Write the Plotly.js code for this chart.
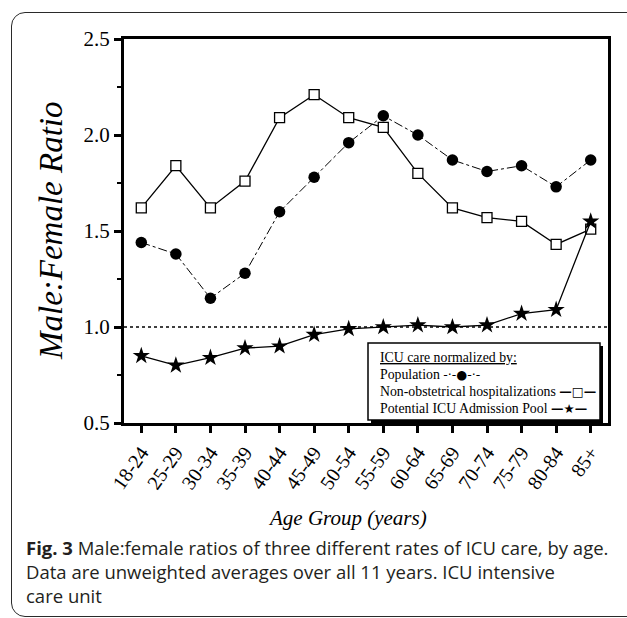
<!DOCTYPE html>
<html>
<head>
<meta charset="utf-8">
<script src="https://cdn.plot.ly/plotly-3.0.1.min.js"></script>
<style>
  html, body { margin: 0; padding: 0; background: #fff; overflow: hidden; }
  #wrap { position: relative; width: 627px; height: 618px; overflow: hidden; }
  #chart { position: absolute; left: 0; top: 0; width: 627px; height: 618px; }
  #frame { position: absolute; left: 11px; top: 12px; width: 700px; height: 603px;
           border: 1.5px solid #2a2a2a; border-radius: 14px; pointer-events: none; }
</style>
</head>
<body>
<div id="wrap"><div id="chart"></div><div id="frame"></div></div>
<script>
const ageGroups = ["18-24","25-29","30-34","35-39","40-44","45-49","50-54","55-59","60-64","65-69","70-74","75-79","80-84","85+"];
const population = [1.44,1.38,1.15,1.28,1.60,1.78,1.96,2.10,2.00,1.87,1.81,1.84,1.73,1.87];
const nonObstetrical = [1.62,1.84,1.62,1.76,2.09,2.21,2.09,2.04,1.80,1.62,1.57,1.55,1.43,1.51];
const icuPool = [0.85,0.80,0.84,0.89,0.90,0.96,0.99,1.00,1.01,1.00,1.01,1.07,1.09,1.55];
const seriesNames = ["Population","Non-obstetrical hospitalizations","Potential ICU Admission Pool"];
const legendTitle = "ICU care normalized by:";
const yTitle = "Male:Female Ratio";
const xTitle = "Age Group (years)";
const captionLines = [
  "<b>Fig. 3</b> Male:female ratios of three different rates of ICU care, by age.",
  "Data are unweighted averages over all 11 years. ICU intensive",
  "care unit"
];

const serif = "Liberation Serif, Times New Roman, serif";
const W = 627, H = 618;
const L = 124, R = 608, T = 39, B = 423;
const pw = R - L, ph = B - T;
const px = x => (x - L) / pw;
const py = y => (B - y) / ph;

const traces = [
  { x: ageGroups, y: population, name: seriesNames[0], type: "scatter", mode: "lines+markers",
    line: { color: "#000", width: 1, dash: "dashdot" },
    marker: { symbol: "circle", size: 11.5, color: "#000" } },
  { x: ageGroups, y: nonObstetrical, name: seriesNames[1], type: "scatter", mode: "lines+markers",
    line: { color: "#000", width: 1.3 },
    marker: { symbol: "square", size: 10, color: "#fff", line: { color: "#000", width: 1.3 } } },
  { x: ageGroups, y: icuPool, name: seriesNames[2], type: "scatter", mode: "lines+markers",
    line: { color: "#000", width: 1.3 },
    marker: { symbol: "star", size: 13, color: "#000" } }
];

const sym = s => '<span style="font-family:DejaVu Sans;font-size:12.5px;font-weight:bold">' + s + '</span>';
const legX = px(378);
const legFont = { family: serif, size: 13.8, color: "#000" };
const annotations = [
  { text: yTitle, xref: "paper", yref: "paper", x: px(51), y: 0.5, textangle: -90,
    showarrow: false, xanchor: "center", yanchor: "middle",
    font: { family: serif, size: 33, color: "#000", style: "italic" } },
  { text: "<i>" + xTitle + "</i>", xref: "paper", yref: "paper", x: px(347), y: py(518),
    showarrow: false, xanchor: "center", yanchor: "middle",
    font: { family: serif, size: 21, color: "#000" } },
  { text: "<u>" + legendTitle + "</u>", xref: "paper", yref: "paper", x: legX, y: py(357),
    showarrow: false, xanchor: "left", yanchor: "middle", font: legFont },
  { text: seriesNames[0] + " " + '<span style="font-family:DejaVu Sans;font-size:12.5px">-\u00b7-\u25CF-\u00b7-</span>', xref: "paper", yref: "paper", x: legX, y: py(374),
    showarrow: false, xanchor: "left", yanchor: "middle", font: legFont },
  { text: seriesNames[1] + " " + sym("\u2014\u25A1\u2014"), xref: "paper", yref: "paper", x: legX, y: py(391),
    showarrow: false, xanchor: "left", yanchor: "middle", font: legFont },
  { text: seriesNames[2] + " " + sym("\u2014\u2605\u2014"), xref: "paper", yref: "paper", x: legX, y: py(408),
    showarrow: false, xanchor: "left", yanchor: "middle", font: legFont }
];
const capY = [547, 571, 595];
captionLines.forEach((t, i) => {
  annotations.push({ text: t, xref: "paper", yref: "paper", x: px(24), y: py(capY[i]),
    showarrow: false, xanchor: "left", yanchor: "middle",
    font: { family: "Open Sans, Noto Sans, sans-serif", size: 18.5, color: "#231f20" } });
});

const shapes = [
  { type: "line", xref: "paper", yref: "y", x0: 0, x1: 1, y0: 1, y1: 1,
    line: { color: "#000", width: 1.3, dash: "dot" } },
  { type: "rect", xref: "paper", yref: "paper", x0: px(371), x1: px(603), y0: py(423), y1: py(346),
    fillcolor: "#000", line: { width: 0 } },
  { type: "rect", xref: "paper", yref: "paper", x0: px(368), x1: px(600), y0: py(420), y1: py(343),
    fillcolor: "#fff", line: { color: "#000", width: 1.5 } }
];

const layout = {
  width: W, height: H,
  margin: { l: L, r: W - R, t: T, b: H - B, pad: 0 },
  paper_bgcolor: "rgba(0,0,0,0)", plot_bgcolor: "#fff",
  showlegend: false,
  xaxis: {
    type: "category", range: [-0.5, 13.5],
    showline: true, linewidth: 3, linecolor: "#000", mirror: true,
    ticks: "outside", ticklen: 7, tickwidth: 3, tickcolor: "#000",
    tickangle: -55, showgrid: false, zeroline: false,
    tickfont: { family: serif, size: 20, color: "#000" }
  },
  yaxis: {
    range: [0.5, 2.5], dtick: 0.5, tick0: 0.5, tickformat: ".1f",
    showline: true, linewidth: 3, linecolor: "#000", mirror: true,
    ticks: "outside", ticklen: 7, tickwidth: 3, tickcolor: "#000",
    minor: { dtick: 0.25, ticks: "outside", ticklen: 4, tickwidth: 2, tickcolor: "#000", showgrid: false },
    showgrid: false, zeroline: false,
    tickfont: { family: serif, size: 21, color: "#000" }
  },
  annotations: annotations,
  shapes: shapes
};

Plotly.newPlot("chart", traces, layout, { displayModeBar: false, staticPlot: true });
</script>
</body>
</html>
